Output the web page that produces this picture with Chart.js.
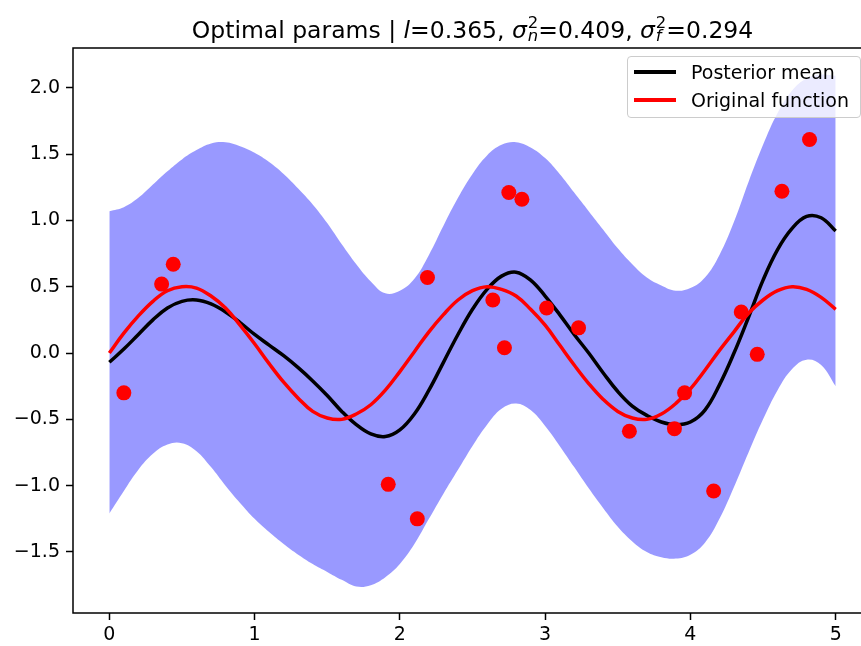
<!DOCTYPE html>
<html>
<head>
<meta charset="utf-8">
<script src="https://cdn.jsdelivr.net/npm/chart.js@4.4.1/dist/chart.umd.min.js"></script>
<style>
    html, body { margin: 0; padding: 0; background: #fff; overflow: hidden; }
    #wrap { position: relative; width: 880px; height: 646px; }
    #title {
        position: absolute; left: 0; top: 14px; width: 945px;
        text-align: center; white-space: nowrap;
        font: 23.5px "DejaVu Sans"; line-height: 28px; color: #000;
    }
    #title i { font-style: italic; }
    .st { display: inline-block; position: relative; width: 0.48em; height: 1em; }
    .st .up, .st .dn { position: absolute; left: 0.05em; font-size: 0.7em; line-height: normal; }
    .st .up { top: -0.05em; }
    .st .dn { top: 0.75em; }
    #legend {
        position: absolute; left: 627px; top: 56px; width: 234px; height: 62px;
        box-sizing: border-box; border: 1px solid #ccc; border-radius: 4px;
        background: rgba(255, 255, 255, 0.8);
        font: 19px "DejaVu Sans"; color: #000; padding-top: 1px;
    }
    .row { position: relative; height: 28px; line-height: 28px; padding-left: 63px; white-space: nowrap; }
    .sw { position: absolute; left: 6px; top: 12px; width: 42px; height: 3.5px; }
</style>
</head>
<body>
<div id="wrap">
    <canvas id="gpChart" width="880" height="646"></canvas>
    <div id="title">Optimal params | <i>l</i>=0.365, <i>σ</i><span class="st"><span class="up">2</span><span class="dn"><i>n</i></span></span>=0.409, <i>σ</i><span class="st"><span class="up">2</span><span class="dn"><i>f</i></span></span>=0.294</div>
    <div id="legend">
        <div class="row"><span class="sw" style="background:#000"></span>Posterior mean</div>
        <div class="row"><span class="sw" style="background:#ff0000"></span>Original function</div>
    </div>
</div>
<script>
// grid of x values for the curves
const xs = [0.0, 0.1, 0.2, 0.3, 0.4, 0.5, 0.6, 0.7, 0.8, 0.9,
    1.0, 1.1, 1.2, 1.3, 1.4, 1.5, 1.6, 1.7, 1.8, 1.9,
    2.0, 2.1, 2.2, 2.3, 2.4, 2.5, 2.6, 2.7, 2.8, 2.9,
    3.0, 3.1, 3.2, 3.3, 3.4, 3.5, 3.6, 3.7, 3.8, 3.9,
    4.0, 4.1, 4.2, 4.3, 4.4, 4.5, 4.6, 4.7, 4.8, 4.9, 5.0];

// posterior mean (black)
const meanY = [-0.07, 0.03, 0.14, 0.25, 0.34, 0.39, 0.40, 0.37, 0.31, 0.23,
    0.14, 0.06, -0.02, -0.11, -0.21, -0.32, -0.44, -0.54, -0.61, -0.63,
    -0.58, -0.46, -0.28, -0.07, 0.14, 0.33, 0.48, 0.58, 0.61, 0.55,
    0.43, 0.29, 0.14, 0.00, -0.15, -0.29, -0.40, -0.47, -0.52, -0.54,
    -0.52, -0.43, -0.24, 0.00, 0.27, 0.55, 0.78, 0.94, 1.03, 1.02, 0.92];

// original function (red)
const trueY = [0.00, 0.15, 0.28, 0.39, 0.47, 0.50, 0.49, 0.43, 0.34, 0.21,
    0.07, -0.08, -0.22, -0.34, -0.44, -0.49, -0.50, -0.46, -0.39, -0.28,
    -0.14, 0.01, 0.16, 0.29, 0.40, 0.47, 0.50, 0.48, 0.43, 0.33,
    0.21, 0.06, -0.09, -0.23, -0.35, -0.44, -0.49, -0.50, -0.46, -0.38,
    -0.27, -0.13, 0.02, 0.16, 0.30, 0.40, 0.47, 0.50, 0.48, 0.42, 0.33];

// uncertainty band edges
const upperY = [1.07, 1.10, 1.17, 1.27, 1.37, 1.46, 1.53, 1.58, 1.59, 1.56,
    1.51, 1.44, 1.35, 1.24, 1.12, 0.98, 0.82, 0.67, 0.54, 0.45,
    0.47, 0.56, 0.74, 0.96, 1.17, 1.35, 1.49, 1.57, 1.59, 1.55,
    1.47, 1.35, 1.21, 1.07, 0.93, 0.79, 0.67, 0.57, 0.51, 0.47,
    0.49, 0.57, 0.74, 0.99, 1.29, 1.57, 1.81, 1.98, 2.07, 2.10, 2.09];
const lowerY = [-1.21, -1.04, -0.88, -0.76, -0.69, -0.68, -0.74, -0.86, -1.00, -1.13,
    -1.25, -1.35, -1.44, -1.52, -1.59, -1.65, -1.71, -1.76, -1.75, -1.69,
    -1.59, -1.44, -1.25, -1.06, -0.88, -0.70, -0.54, -0.42, -0.38, -0.43,
    -0.55, -0.70, -0.86, -1.02, -1.17, -1.31, -1.42, -1.50, -1.54, -1.55,
    -1.52, -1.43, -1.25, -1.01, -0.75, -0.50, -0.28, -0.12, -0.05, -0.09, -0.25];

// noisy observations
const obsX = [0.10, 0.36, 0.44, 1.92, 2.12, 2.19, 2.64, 2.72, 2.75, 2.84,
    3.01, 3.23, 3.58, 3.89, 3.96, 4.16, 4.35, 4.46, 4.63, 4.82];
const obsY = [-0.30, 0.52, 0.67, -0.99, -1.25, 0.57, 0.40, 0.04, 1.21, 1.16,
    0.34, 0.19, -0.59, -0.57, -0.30, -1.04, 0.31, -0.01, 1.22, 1.61];

const xTicks = [0, 1, 2, 3, 4, 5];
const yTicks = [-1.5, -1.0, -0.5, 0.0, 0.5, 1.0, 1.5, 2.0];

const toPts = ys => xs.map((x, i) => ({ x: x, y: ys[i] }));

// box around the plot area like matplotlib spines
const frame = {
    id: 'frame',
    afterDraw(chart) {
        const a = chart.chartArea, ctx = chart.ctx;
        ctx.save();
        ctx.strokeStyle = '#000';
        ctx.lineWidth = 1.5;
        ctx.strokeRect(a.left, a.top, a.right - a.left, a.bottom - a.top);
        ctx.restore();
    }
};

Chart.defaults.font.family = '"DejaVu Sans"';
Chart.defaults.color = '#000';

const tickGrid = { drawOnChartArea: false, drawTicks: true, tickLength: 7, tickColor: '#000', tickWidth: 1.5 };

new Chart(document.getElementById('gpChart'), {
    type: 'line',
    data: {
        datasets: [
            {
                type: 'scatter', label: 'Observations',
                data: obsX.map((x, i) => ({ x: x, y: obsY[i] })),
                backgroundColor: '#ff0000', borderWidth: 0, pointRadius: 7.5, order: 0
            },
            {
                label: 'Original function', data: toPts(trueY),
                borderColor: '#ff0000', borderWidth: 3.5, pointRadius: 0, tension: 0.4, fill: false, order: 1
            },
            {
                label: 'Posterior mean', data: toPts(meanY),
                borderColor: '#000', borderWidth: 3.5, pointRadius: 0, tension: 0.4, fill: false, order: 2
            },
            {
                label: 'upper', data: toPts(upperY),
                borderWidth: 0, pointRadius: 0, tension: 0.4,
                backgroundColor: 'rgba(0, 0, 255, 0.4)', fill: '+1', order: 3
            },
            {
                label: 'lower', data: toPts(lowerY),
                borderWidth: 0, pointRadius: 0, tension: 0.4, fill: false, order: 4
            }
        ]
    },
    options: {
        responsive: false,
        animation: false,
        layout: { padding: { top: 48, right: 8, left: 0, bottom: 0 } },
        plugins: { legend: { display: false }, title: { display: false }, tooltip: { enabled: false } },
        scales: {
            x: {
                type: 'linear', min: -0.25, max: 5.25,
                afterBuildTicks: s => { s.ticks = xTicks.map(v => ({ value: v })); },
                afterFit: s => { s.height = 33; },
                grid: tickGrid, border: { display: false },
                ticks: { font: { size: 19 }, padding: 4, maxRotation: 0, callback: v => String(v) }
            },
            y: {
                type: 'linear', min: -1.96, max: 2.30,
                afterBuildTicks: s => { s.ticks = yTicks.map(v => ({ value: v })); },
                afterFit: s => { s.width = 73; },
                grid: tickGrid, border: { display: false },
                ticks: { font: { size: 19 }, padding: 6, callback: v => v.toFixed(1).replace('-', '\u2212') }
            }
        }
    },
    plugins: [frame]
});
</script>
</body>
</html>
